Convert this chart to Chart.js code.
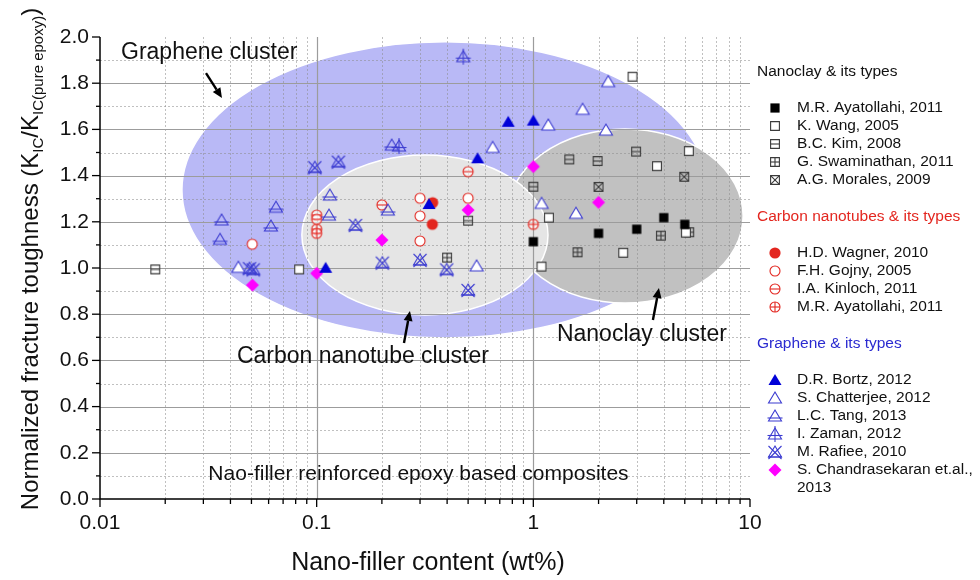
<!DOCTYPE html>
<html>
<head>
<meta charset="utf-8">
<script src="https://cdn.jsdelivr.net/npm/chart.js@4.4.1/dist/chart.umd.min.js"></script>
<style>
  html, body { margin: 0; padding: 0; background: #fff; }
  #wrap { width: 980px; height: 580px; position: relative; }
</style>
</head>
<body>
<div id="wrap"><canvas id="c"></canvas></div>
<script>
const FONT = "'Liberation Sans', Arial, Helvetica, sans-serif";

// Axis ticks
const xDecades = [0.01, 0.1, 1, 10];
const yMin = 0, yMax = 2, yStep = 0.2;

// ---- Nanoclay & its types ----
const ayatollahiClayX = [1.0, 2.0, 3.0, 4.0, 5.0];
const ayatollahiClayY = [1.114, 1.150, 1.168, 1.218, 1.189];
const wangX = [0.083, 1.09, 1.18, 2.6, 5.06, 3.72, 5.22, 2.87];
const wangY = [0.994, 1.006, 1.218, 1.066, 1.153, 1.441, 1.506, 1.828];
const kimX = [0.018, 0.5, 1.0, 1.465, 1.98, 2.98];
const kimY = [0.994, 1.205, 1.352, 1.470, 1.463, 1.504];
const swaminathanX = [0.4, 1.6, 3.88, 5.24];
const swaminathanY = [1.045, 1.068, 1.140, 1.155];
const moralesX = [2.0, 4.97];
const moralesY = [1.351, 1.395];

// ---- Carbon nanotubes & its types ----
const wagnerX = [0.343, 0.342];
const wagnerY = [1.283, 1.189];
const gojnyX = [0.0504, 0.3, 0.3, 0.3, 0.5];
const gojnyY = [1.103, 1.302, 1.225, 1.117, 1.302];
const kinlochX = [0.1, 0.1, 0.2, 0.5];
const kinlochY = [1.229, 1.211, 1.273, 1.417];
const ayatollahiCntX = [0.1, 0.1, 1.0];
const ayatollahiCntY = [1.168, 1.150, 1.189];

// ---- Graphene & its types ----
const bortzX = [0.110, 0.330, 0.553, 0.766, 1.0];
const bortzY = [1.001, 1.277, 1.475, 1.633, 1.638];
const chatterjeeX = [0.0435, 0.547, 0.649, 1.092, 1.172, 1.573, 1.688, 2.163, 2.216];
const chatterjeeY = [1.003, 1.009, 1.522, 1.280, 1.619, 1.237, 1.687, 1.597, 1.807];
const tangX = [0.0364, 0.0358, 0.0649, 0.0615, 0.115, 0.114, 0.213, 0.222];
const tangY = [1.208, 1.124, 1.263, 1.182, 1.316, 1.229, 1.251, 1.532];
const zamanX = [0.240, 0.475];
const zamanY = [1.528, 1.915];
const rafieeX = [0.049, 0.051, 0.098, 0.126, 0.151, 0.201, 0.30, 0.398, 0.50];
const rafieeY = [0.999, 0.994, 1.436, 1.460, 1.186, 1.023, 1.035, 0.994, 0.905];
const chandrasekaranX = [0.0505, 0.100, 0.200, 0.50, 1.0, 2.0];
const chandrasekaranY = [0.926, 0.977, 1.121, 1.251, 1.439, 1.284];

// Shaded cluster regions, in data units: centre (x, y), half-width in decades, half-height in y units
const clusters = [
  { name: 'graphene', cx: 0.391, cy: 1.338, halfDecades: 1.214, halfY: 0.641, fill: '#b9b9f6' },
  { name: 'nanoclay', cx: 2.65,  cy: 1.225, halfDecades: 0.545, halfY: 0.377, fill: '#c1c1c1' },
  { name: 'cnt',      cx: 0.316, cy: 1.143, halfDecades: 0.568, halfY: 0.346, fill: '#e5e5e5' }
];

// ---------- marker glyphs ----------
const BLUE = '#3b3bd0', BLUE_FILL = '#0000d8', RED = '#e3261f', GREY = '#3a3a3a', MAGENTA = '#ff00ff';

function glyph(kind) {
  const S = 18, c = document.createElement('canvas');
  c.width = S; c.height = S;
  const g = c.getContext('2d');
  g.translate(S / 2, S / 2);
  g.lineWidth = 1.1;
  const sq = (h) => { g.beginPath(); g.rect(-h, -h, 2 * h, 2 * h); };
  const tri = () => { g.beginPath(); g.moveTo(0, -6); g.lineTo(6.5, 5); g.lineTo(-6.5, 5); g.closePath(); };
  const line = (x1, y1, x2, y2) => { g.beginPath(); g.moveTo(x1, y1); g.lineTo(x2, y2); g.stroke(); };
  switch (kind) {
    case 'sqFill': g.fillStyle = '#000'; sq(4.6); g.fill(); break;
    case 'sqOpen': g.fillStyle = '#fff'; g.strokeStyle = GREY; sq(4.4); g.fill(); g.stroke(); break;
    case 'sqH': g.strokeStyle = GREY; sq(4.4); g.stroke(); line(-4.4, 0, 4.4, 0); break;
    case 'sqPlus': g.strokeStyle = GREY; sq(4.4); g.stroke(); line(-4.4, 0, 4.4, 0); line(0, -4.4, 0, 4.4); break;
    case 'sqX': g.strokeStyle = GREY; sq(4.4); g.stroke(); line(-4.4, -4.4, 4.4, 4.4); line(4.4, -4.4, -4.4, 4.4); break;
    case 'cFill': g.fillStyle = RED; g.beginPath(); g.arc(0, 0, 5.6, 0, 2 * Math.PI); g.fill(); break;
    case 'cOpen': g.fillStyle = '#fff'; g.strokeStyle = RED; g.beginPath(); g.arc(0, 0, 5, 0, 2 * Math.PI); g.fill(); g.stroke(); break;
    case 'cH': g.fillStyle = 'rgba(255,255,255,0.6)'; g.strokeStyle = RED; g.beginPath(); g.arc(0, 0, 5, 0, 2 * Math.PI); g.fill(); g.stroke(); line(-5, 0, 5, 0); break;
    case 'cPlus': g.fillStyle = 'rgba(255,255,255,0.6)'; g.strokeStyle = RED; g.beginPath(); g.arc(0, 0, 5, 0, 2 * Math.PI); g.fill(); g.stroke(); line(-5, 0, 5, 0); line(0, -5, 0, 5); break;
    case 'tFill': g.fillStyle = BLUE_FILL; tri(); g.fill(); break;
    case 'tOpen': g.fillStyle = '#fff'; g.strokeStyle = BLUE; tri(); g.fill(); g.stroke(); break;
    case 'tLine': g.strokeStyle = BLUE; tri(); g.stroke(); line(-7.5, 2, 7.5, 2); break;
    case 'tCross': g.strokeStyle = BLUE; tri(); g.stroke(); line(-7.5, 1.5, 7.5, 1.5); line(0, -8, 0, 8); break;
    case 'tX': g.strokeStyle = BLUE; tri(); g.stroke(); line(-6.5, -6, 6.5, 7); line(6.5, -6, -6.5, 7); line(-7, 5, 7, 5); break;
    case 'diamond': g.fillStyle = MAGENTA; g.beginPath(); g.moveTo(0, -6.5); g.lineTo(6.5, 0); g.lineTo(0, 6.5); g.lineTo(-6.5, 0); g.closePath(); g.fill(); break;
  }
  return c;
}

// Series table built from the arrays above
const groups = [
  { title: 'Nanoclay & its types', color: '#111', order: 3, items: [
    { label: 'M.R. Ayatollahi, 2011', glyph: 'sqFill', xs: ayatollahiClayX, ys: ayatollahiClayY },
    { label: 'K. Wang, 2005', glyph: 'sqOpen', xs: wangX, ys: wangY },
    { label: 'B.C. Kim, 2008', glyph: 'sqH', xs: kimX, ys: kimY },
    { label: 'G. Swaminathan, 2011', glyph: 'sqPlus', xs: swaminathanX, ys: swaminathanY },
    { label: 'A.G. Morales, 2009', glyph: 'sqX', xs: moralesX, ys: moralesY }
  ]},
  { title: 'Carbon nanotubes & its types', color: RED, order: 2, items: [
    { label: 'H.D. Wagner, 2010', glyph: 'cFill', xs: wagnerX, ys: wagnerY },
    { label: 'F.H. Gojny, 2005', glyph: 'cOpen', xs: gojnyX, ys: gojnyY },
    { label: 'I.A. Kinloch, 2011', glyph: 'cH', xs: kinlochX, ys: kinlochY },
    { label: 'M.R. Ayatollahi, 2011', glyph: 'cPlus', xs: ayatollahiCntX, ys: ayatollahiCntY }
  ]},
  { title: 'Graphene & its types', color: '#2a2ad0', order: 1, items: [
    { label: 'D.R. Bortz, 2012', glyph: 'tFill', xs: bortzX, ys: bortzY },
    { label: 'S. Chatterjee, 2012', glyph: 'tOpen', xs: chatterjeeX, ys: chatterjeeY },
    { label: 'L.C. Tang, 2013', glyph: 'tLine', xs: tangX, ys: tangY },
    { label: 'I. Zaman, 2012', glyph: 'tCross', xs: zamanX, ys: zamanY },
    { label: 'M. Rafiee, 2010', glyph: 'tX', xs: rafieeX, ys: rafieeY },
    { label: 'S. Chandrasekaran et.al., 2013', glyph: 'diamond', xs: chandrasekaranX, ys: chandrasekaranY }
  ]}
];

const glyphs = {};
groups.forEach(gr => gr.items.forEach(it => { glyphs[it.glyph] = glyph(it.glyph); }));

const datasets = [];
groups.forEach(gr => gr.items.forEach(it => {
  datasets.push({
    label: it.label,
    data: it.xs.map((v, i) => ({ x: v, y: it.ys[i] })),
    pointStyle: glyphs[it.glyph],
    pointRadius: 6,
    showLine: false,
    order: gr.order
  });
}));

// Text notes placed in data coordinates
const notes = [
  { text: 'Graphene cluster', x: 0.0125, y: 1.931, align: 'left', size: 23 },
  { text: 'Carbon nanotube cluster', x: 0.04287, y: 0.615, align: 'left', size: 23 },
  { text: 'Nanoclay cluster', x: 1.285, y: 0.71, align: 'left', size: 23 },
  { text: 'Nao-filler reinforced epoxy based composites', x: 0.295, y: 0.108, align: 'center', size: 21 }
];
const arrows = [
  { from: [0.03085, 1.844], to: [0.03656, 1.736] },
  { from: [0.2529, 0.675], to: [0.2694, 0.814] },
  { from: [3.564, 0.775], to: [3.80, 0.913] }
];

const isDecade = v => Math.abs(Math.log10(v) - Math.round(Math.log10(v))) < 1e-6;

// Background: clusters under the grid
const backdrop = {
  id: 'backdrop',
  beforeDraw(chart) {
    const { ctx, chartArea: a, scales: { x, y } } = chart;
    ctx.save();
    ctx.fillStyle = '#fff';
    ctx.fillRect(0, 0, chart.width, chart.height);
    clusters.forEach(c => {
      const px = x.getPixelForValue(c.cx);
      const rx = x.getPixelForValue(c.cx * Math.pow(10, c.halfDecades)) - px;
      const py = y.getPixelForValue(c.cy);
      const ry = y.getPixelForValue(c.cy - c.halfY) - py;
      ctx.beginPath();
      ctx.ellipse(px, py, rx, ry, 0, 0, 2 * Math.PI);
      ctx.fillStyle = c.fill;
      ctx.fill();
      ctx.lineWidth = 1.5;
      ctx.strokeStyle = '#ffffff';
      ctx.stroke();
    });
    // minor grid (dotted)
    ctx.lineWidth = 1;
    ctx.setLineDash([2, 2]);
    ctx.strokeStyle = 'rgba(140,140,140,0.55)';
    for (let d = 0.01; d < 5; d *= 10) {
      for (let m = 2; m <= 9; m++) {
        const X = Math.round(x.getPixelForValue(m * d)) + 0.5;
        ctx.beginPath(); ctx.moveTo(X, a.top); ctx.lineTo(X, a.bottom); ctx.stroke();
      }
    }
    for (let k = 1; k < 20; k += 2) {
      const Y = Math.round(y.getPixelForValue(k / 10)) + 0.5;
      ctx.beginPath(); ctx.moveTo(a.left, Y); ctx.lineTo(a.right, Y); ctx.stroke();
    }
    // major grid (solid)
    ctx.setLineDash([]);
    ctx.strokeStyle = '#9c9c9c';
    ctx.lineWidth = 1.2;
    [0.1, 1].forEach(v => {
      const X = Math.round(x.getPixelForValue(v)) + 0.5;
      ctx.beginPath(); ctx.moveTo(X, a.top); ctx.lineTo(X, a.bottom); ctx.stroke();
    });
    for (let k = 2; k < 20; k += 2) {
      const Y = Math.round(y.getPixelForValue(k / 10)) + 0.5;
      ctx.beginPath(); ctx.moveTo(a.left, Y); ctx.lineTo(a.right, Y); ctx.stroke();
    }
    ctx.restore();
  }
};

function drawArrow(ctx, x1, y1, x2, y2) {
  const ang = Math.atan2(y2 - y1, x2 - x1);
  const L = 10, W = 4.5;
  const bx = x2 - L * Math.cos(ang), by = y2 - L * Math.sin(ang);
  ctx.beginPath(); ctx.moveTo(x1, y1); ctx.lineTo(bx, by); ctx.stroke();
  ctx.beginPath();
  ctx.moveTo(x2, y2);
  ctx.lineTo(bx + W * Math.sin(ang), by - W * Math.cos(ang));
  ctx.lineTo(bx - W * Math.sin(ang), by + W * Math.cos(ang));
  ctx.closePath(); ctx.fill();
}

// Axes, tick marks, notes, titles and the grouped key
const overlay = {
  id: 'overlay',
  afterDraw(chart) {
    const { ctx, chartArea: a, scales: { x, y } } = chart;
    ctx.save();
    // axis lines
    ctx.strokeStyle = '#000'; ctx.lineWidth = 1.5;
    ctx.beginPath(); ctx.moveTo(a.left, a.top); ctx.lineTo(a.left, a.bottom); ctx.lineTo(a.right, a.bottom); ctx.stroke();
    // tick marks
    ctx.lineWidth = 1.3;
    for (let d = 0.01; d < 50; d *= 10) {
      for (let m = 1; m <= 9; m++) {
        const v = m * d;
        if (v > 10.0001) break;
        const X = x.getPixelForValue(v);
        const len = m === 1 ? 8 : 5;
        ctx.beginPath(); ctx.moveTo(X, a.bottom); ctx.lineTo(X, a.bottom + len); ctx.stroke();
      }
    }
    for (let k = 0; k <= 20; k++) {
      const Y = y.getPixelForValue(k / 10);
      const len = k % 2 === 0 ? 8 : 4;
      ctx.beginPath(); ctx.moveTo(a.left, Y); ctx.lineTo(a.left - len, Y); ctx.stroke();
    }
    // notes and arrows
    ctx.fillStyle = '#111';
    ctx.textBaseline = 'middle';
    notes.forEach(n => {
      ctx.font = n.size + 'px ' + FONT;
      ctx.textAlign = n.align;
      ctx.fillText(n.text, x.getPixelForValue(n.x), y.getPixelForValue(n.y));
    });
    ctx.strokeStyle = '#000'; ctx.fillStyle = '#000'; ctx.lineWidth = 2.4;
    arrows.forEach(ar => drawArrow(ctx,
      x.getPixelForValue(ar.from[0]), y.getPixelForValue(ar.from[1]),
      x.getPixelForValue(ar.to[0]), y.getPixelForValue(ar.to[1])));

    // x title
    ctx.fillStyle = '#111';
    ctx.font = '25px ' + FONT;
    ctx.textAlign = 'center';
    ctx.textBaseline = 'middle';
    ctx.fillText('Nano-filler content (wt%)', (a.left + a.right) / 2 + 3, 563);

    // y title with subscripts, rotated
    const parts = [
      { t: 'Normalized fracture toughness (K', sub: false },
      { t: 'IC', sub: true },
      { t: '/K', sub: false },
      { t: 'IC(pure epoxy)', sub: true },
      { t: ')', sub: false }
    ];
    const mainFont = '24px ' + FONT, subFont = '15px ' + FONT;
    let total = 0;
    parts.forEach(p => { ctx.font = p.sub ? subFont : mainFont; p.w = ctx.measureText(p.t).width; total += p.w; });
    ctx.save();
    ctx.translate(38, (a.top + a.bottom) / 2 - 9);
    ctx.rotate(-Math.PI / 2);
    ctx.textAlign = 'left';
    ctx.textBaseline = 'alphabetic';
    let u = -total / 2;
    parts.forEach(p => {
      ctx.font = p.sub ? subFont : mainFont;
      ctx.fillText(p.t, u, p.sub ? 5 : 0);
      u += p.w;
    });
    ctx.restore();

    // grouped key
    const kx = a.right + 7;
    let ky = 72;
    ctx.textAlign = 'left';
    ctx.textBaseline = 'middle';
    groups.forEach(gr => {
      ctx.font = '15.5px ' + FONT;
      ctx.fillStyle = gr.color;
      ctx.fillText(gr.title, kx, ky);
      ky += 36;
      gr.items.forEach(it => {
        const gimg = glyphs[it.glyph];
        ctx.drawImage(gimg, kx + 18 - gimg.width / 2, Math.round(ky) - gimg.height / 2);
        ctx.fillStyle = '#111';
        ctx.font = '15.5px ' + FONT;
        if (it.label === 'S. Chandrasekaran et.al., 2013') {
          ctx.fillText('S. Chandrasekaran et.al.,', kx + 40, ky);
          ctx.fillText('2013', kx + 40, ky + 18);
        } else {
          ctx.fillText(it.label, kx + 40, ky);
        }
        ky += 18;
      });
      ky += 19;
    });
    ctx.restore();
  }
};

Chart.defaults.font.family = FONT;

new Chart(document.getElementById('c'), {
  type: 'scatter',
  data: { datasets },
  options: {
    responsive: true,
    maintainAspectRatio: false,
    animation: false,
    layout: { padding: { top: 37, right: 230, left: 0, bottom: 0 } },
    plugins: { legend: { display: false }, tooltip: { enabled: false } },
    scales: {
      x: {
        type: 'logarithmic',
        min: xDecades[0],
        max: xDecades[xDecades.length - 1],
        grid: { display: false, drawTicks: false },
        border: { display: false },
        ticks: {
          autoSkip: false,
          maxRotation: 0,
          padding: 12,
          color: '#111',
          font: { size: 21 },
          callback: v => (isDecade(v) && xDecades.some(d => Math.abs(d - v) < 1e-9)) ? String(+v.toPrecision(3)) : ''
        },
        afterFit: s => { s.height = 81; }
      },
      y: {
        min: yMin,
        max: yMax,
        grid: { display: false, drawTicks: false },
        border: { display: false },
        ticks: {
          stepSize: yStep,
          padding: 11,
          color: '#111',
          font: { size: 21 },
          callback: v => Number(v).toFixed(1)
        },
        afterFit: s => { s.width = 100; }
      }
    }
  },
  plugins: [backdrop, overlay]
});
</script>
</body>
</html>
